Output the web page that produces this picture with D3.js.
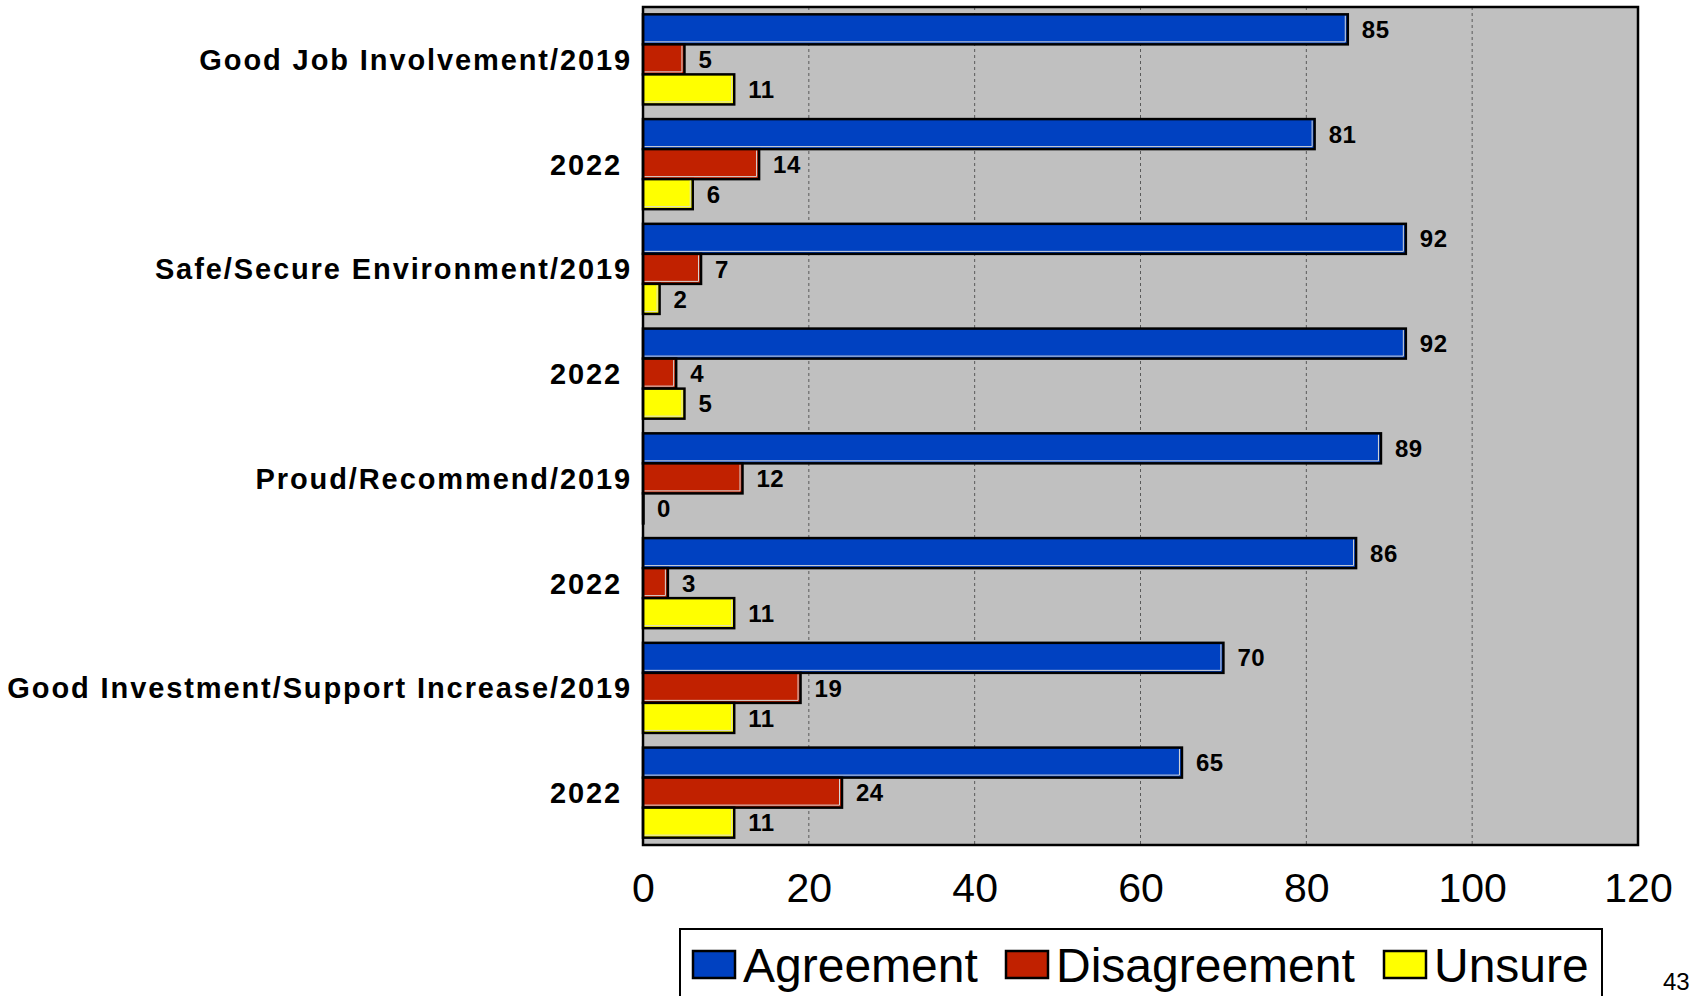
<!DOCTYPE html>
<html><head><meta charset="utf-8">
<script src="https://cdn.jsdelivr.net/npm/d3@7"></script>
<style>
html,body{margin:0;padding:0;background:#fff;overflow:hidden}
svg{display:block}
</style></head>
<body>
<svg id="chart" width="1690" height="996"></svg>
<script>
const categories = ["Good Job Involvement/2019","2022\u00a0","Safe/Secure Environment/2019","2022\u00a0","Proud/Recommend/2019","2022\u00a0","Good Investment/Support Increase/2019","2022\u00a0"];
const seriesNames = ["Agreement","Disagreement","Unsure"];
const agreement = [85,81,92,92,89,86,70,65];
const disagreement = [5,14,7,4,12,3,19,24];
const unsure = [11,6,2,5,0,11,11,11];
const xTicks = [0,20,40,60,80,100,120];
const pageNumber = "43";

const colors = {Agreement:"#0041C1", Disagreement:"#C12100", Unsure:"#FFFF00"};
const seriesValues = {Agreement:agreement, Disagreement:disagreement, Unsure:unsure};

const svg = d3.select("#chart");
const plot = {left:643, right:1638, top:7, bottom:845};

const x = d3.scaleLinear().domain([0,120]).range([plot.left, plot.right]);
const idx = categories.map((d,i)=>i);
const y0 = d3.scaleBand().domain(idx).range([plot.top, plot.bottom]).paddingInner(0.14).paddingOuter(0.07);
const y1 = d3.scaleBand().domain(seriesNames).range([0, y0.bandwidth()]).padding(0);

// background
svg.append("rect").attr("x",plot.left).attr("y",plot.top)
  .attr("width",plot.right-plot.left).attr("height",plot.bottom-plot.top)
  .attr("fill","#C0C0C0");

// gridlines
svg.append("g").selectAll("line").data(xTicks.filter(t=>t>0 && t<120)).join("line")
  .attr("x1",d=>x(d)).attr("x2",d=>x(d)).attr("y1",plot.top).attr("y2",plot.bottom)
  .attr("stroke","#5a5a5a").attr("stroke-width",1).attr("stroke-dasharray","3,3");

// bars
const groups = svg.append("g").selectAll("g").data(idx).join("g")
  .attr("transform",i=>`translate(0,${y0(i)})`);

seriesNames.forEach(s=>{
  groups.each(function(i){
    const v = seriesValues[s][i];
    const g = d3.select(this);
    const yy = y1(s), h = y1.bandwidth();
    const w = x(v)-x(0);
    g.append("rect").attr("x",x(0)).attr("y",yy).attr("width",Math.max(w,0.5)).attr("height",h)
      .attr("fill",colors[s]).attr("stroke","#000").attr("stroke-width",2.5);
    if (w>4){
      g.append("path")
        .attr("d",`M${x(0)+1.5},${yy+h-2.5}H${x(v)-2.5}V${yy+1.5}`)
        .attr("fill","none").attr("stroke","#d8d8d8").attr("stroke-width",1);
    }
    g.append("text").attr("x",x(v)+14).attr("y",yy+h/2)
      .attr("dy","0.36em")
      .attr("font-family","'Liberation Sans', Arial, sans-serif")
      .attr("font-weight","bold").attr("font-size",24).attr("fill","#000")
      .attr("letter-spacing","0.5px")
      .text(v);
  });
});

// plot border
svg.append("rect").attr("x",plot.left).attr("y",plot.top)
  .attr("width",plot.right-plot.left).attr("height",plot.bottom-plot.top)
  .attr("fill","none").attr("stroke","#000").attr("stroke-width",2.5);

// category labels
svg.append("g").selectAll("text").data(idx).join("text")
  .attr("x",632).attr("y",i=>y0(i)+y0.bandwidth()/2)
  .attr("dy","0.36em").attr("text-anchor","end")
  .attr("font-family","'Liberation Sans', Arial, sans-serif")
  .attr("font-weight","bold").attr("font-size",29).attr("fill","#000")
  .attr("letter-spacing","1.9px")
  .style("white-space","pre")
  .text(i=>categories[i]);

// x axis
const xAxis = d3.axisBottom(x).tickValues(xTicks).tickSize(0).tickPadding(0).tickFormat(d3.format("d"));
const ax = svg.append("g").attr("transform",`translate(0,${plot.bottom})`).call(xAxis);
ax.select(".domain").remove();
ax.selectAll("text").attr("y",57).attr("dy",0)
  .attr("font-family","'Liberation Sans', Arial, sans-serif")
  .attr("font-size",41).attr("fill","#000");

// legend
const lg = svg.append("g");
lg.append("rect").attr("x",680).attr("y",929).attr("width",922).attr("height",90)
  .attr("fill","#fff").attr("stroke","#000").attr("stroke-width",2);
const legendX = {Agreement:693, Disagreement:1006, Unsure:1384};
seriesNames.forEach(s=>{
  lg.append("rect").attr("x",legendX[s]).attr("y",951).attr("width",42).attr("height",27)
    .attr("fill",colors[s]).attr("stroke","#000").attr("stroke-width",2.5);
  lg.append("text").attr("x",legendX[s]+50).attr("y",982)
    .attr("font-family","'Liberation Sans', Arial, sans-serif")
    .attr("font-size",48).attr("fill","#000").text(s);
});

// page number
svg.append("text").attr("x",1663).attr("y",990)
  .attr("font-family","'Liberation Sans', Arial, sans-serif")
  .attr("font-size",24).attr("fill","#000").text(pageNumber);
</script>
</body></html>
